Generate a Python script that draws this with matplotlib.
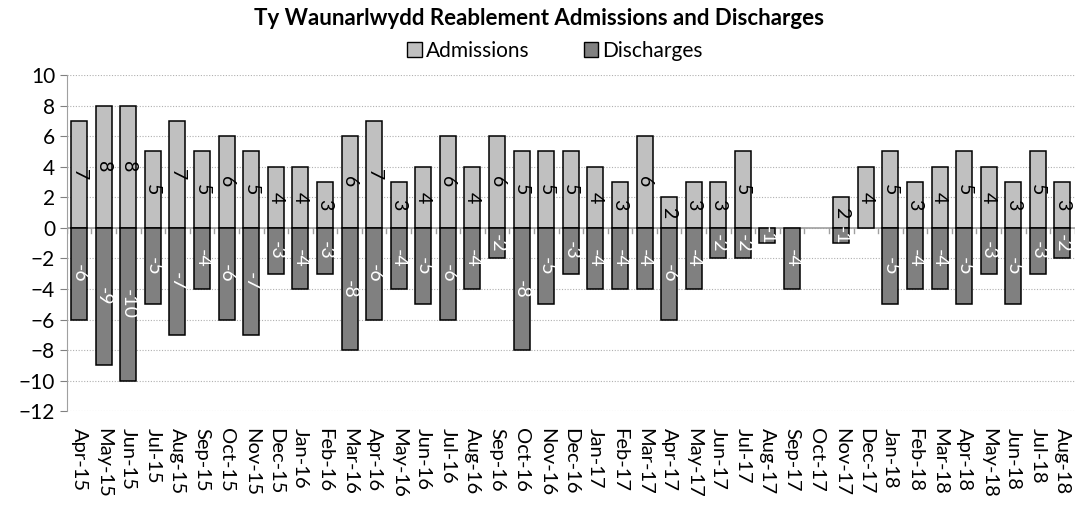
import matplotlib
matplotlib.use("Agg")
import matplotlib.pyplot as plt
import matplotlib.patches as mpatches
import numpy as np

plt.rcParams['font.family'] = ['Lato', 'DejaVu Sans']

months = ["Apr-15", "May-15", "Jun-15", "Jul-15", "Aug-15", "Sep-15", "Oct-15", "Nov-15",
          "Dec-15", "Jan-16", "Feb-16", "Mar-16", "Apr-16", "May-16", "Jun-16", "Jul-16",
          "Aug-16", "Sep-16", "Oct-16", "Nov-16", "Dec-16", "Jan-17", "Feb-17", "Mar-17",
          "Apr-17", "May-17", "Jun-17", "Jul-17", "Aug-17", "Sep-17", "Oct-17", "Nov-17",
          "Dec-17", "Jan-18", "Feb-18", "Mar-18", "Apr-18", "May-18", "Jun-18", "Jul-18",
          "Aug-18"]
admissions = [7, 8, 8, 5, 7, 5, 6, 5, 4, 4, 3, 6, 7, 3, 4, 6, 4, 6, 5, 5, 5, 4, 3, 6,
              2, 3, 3, 5, 0, 0, 0, 2, 4, 5, 3, 4, 5, 4, 3, 5, 3]
discharges = [-6, -9, -10, -5, -7, -4, -6, -7, -3, -4, -3, -8, -6, -4, -5, -6, -4, -2, -8, -5,
              -3, -4, -4, -4, -6, -4, -2, -2, -1, -4, 0, -1, 0, -5, -4, -4, -5, -3, -5, -3, -2]

fig = plt.figure(figsize=(10.78, 5.07), dpi=100)
ax = fig.add_axes([0.062, 0.189, 0.935, 0.663])

x = np.arange(len(months))
w = 0.65
adm_idx = [i for i in x if admissions[i] != 0]
dis_idx = [i for i in x if discharges[i] != 0]
ax.bar(adm_idx, [admissions[i] for i in adm_idx], w, color="#c0c0c0",
       edgecolor="black", linewidth=1.1, zorder=3)
ax.bar(dis_idx, [discharges[i] for i in dis_idx], w, color="#808080",
       edgecolor="black", linewidth=1.1, zorder=3)

for i in adm_idx:
    ax.text(x[i], admissions[i] / 2, str(admissions[i]), rotation=270,
            ha="center", va="center", fontsize=14, color="black", zorder=4)
for i in dis_idx:
    ax.text(x[i], discharges[i] / 2, str(discharges[i]), rotation=270,
            ha="center", va="center", fontsize=14, color="white", zorder=4)

ax.set_xlim(-0.5, len(months) - 0.5)
ax.set_ylim(-12, 10)
ax.set_yticks(range(-12, 11, 2))
ax.yaxis.grid(True, linestyle=(0, (1, 1.5)), color="#b0b0b0", linewidth=0.8, zorder=0)
ax.tick_params(axis="y", labelsize=15, length=5, color="#808080")

# zero line with category-boundary ticks
ax.axhline(0, color="#a0a0a0", linewidth=1.2, zorder=2)
for b in np.arange(-0.5, len(months), 1.0):
    ax.plot([b, b], [0, -0.35], color="#a0a0a0", linewidth=1, zorder=2)

ax.set_xticks(x)
ax.set_xticklabels(months, rotation=270, fontsize=14.5)
ax.tick_params(axis="x", length=0, pad=12)

for s in ["top", "right", "bottom"]:
    ax.spines[s].set_visible(False)
ax.spines["left"].set_color("#a0a0a0")

fig.suptitle("Ty Waunarlwydd Reablement Admissions and Discharges",
             fontsize=16, fontweight="bold", y=0.985)

h1 = mpatches.Patch(facecolor="#c0c0c0", edgecolor="black", label="Admissions")
h2 = mpatches.Patch(facecolor="#808080", edgecolor="black", label="Discharges")
fig.legend(handles=[h1, h2], loc="center", bbox_to_anchor=(0.515, 0.9), ncol=2,
           frameon=False, fontsize=15, handlelength=0.7, handleheight=0.7,
           handletextpad=0.2, columnspacing=2.6)

fig.savefig("out.png", dpi=100)
